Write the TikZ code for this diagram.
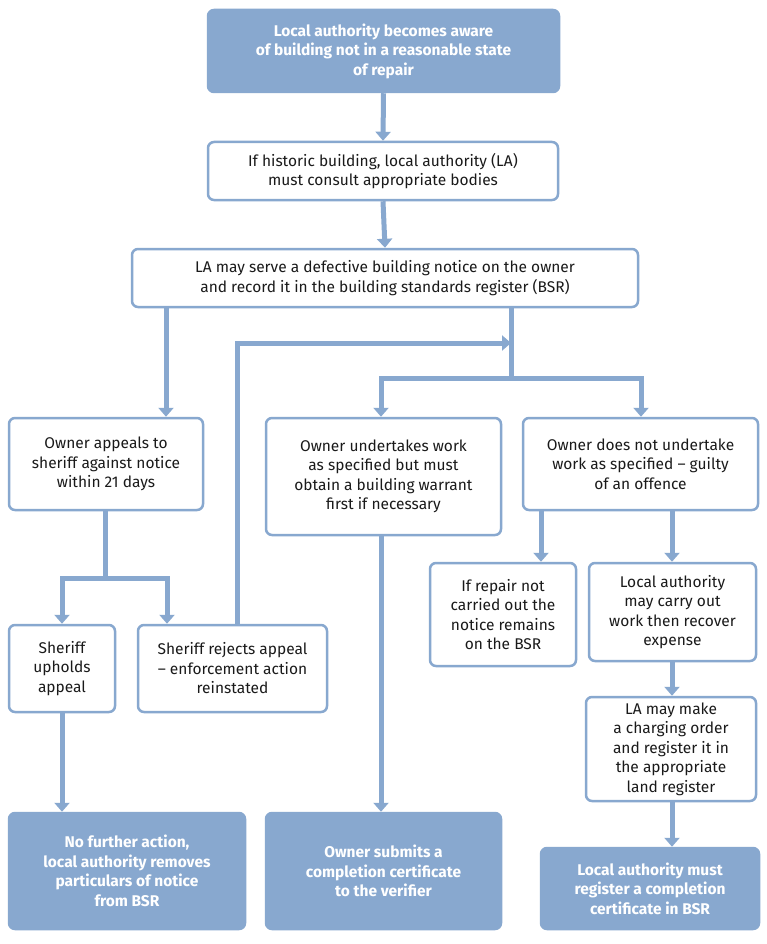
\documentclass[tikz,border=0pt]{standalone}
\usepackage{fontspec}
\setmainfont{Fira Sans}
\usetikzlibrary{arrows.meta}
\definecolor{bl}{HTML}{88A8CF}
\definecolor{tx}{HTML}{1A1A1A}
\tikzset{
 box/.style={draw=bl,line width=2.5pt,rounded corners=6pt,fill=white,align=center,font=\fontsize{15.5}{19.5}\selectfont,text=tx,inner sep=0pt},
 fbox/.style={box,fill=bl,text=white,font=\bfseries\fontsize{15.5}{19.5}\selectfont},
 ar/.style={draw=bl,line width=5pt,-{Triangle[length=9pt,width=15pt]}},
 ln/.style={draw=bl,line width=5pt}
}
\newcommand{\bx}[6]{\node[#1,minimum width=#4pt-#2pt,minimum height=#5pt-#3pt] (#6) at ({(#2+#4)/2*1pt},{-(#3+#5)/2*1pt})}
\begin{document}
\begin{tikzpicture}
\useasboundingbox (0,0) rectangle (767pt,-944pt);
\fill[white] (0,0) rectangle (767pt,-944pt);
\bx{fbox}{208}{10}{559}{92}{a}{Local authority becomes aware\\of building not in a reasonable state\\of repair};
\bx{box}{208}{142}{558}{200}{b}{If historic building, local authority (LA)\\must consult appropriate bodies};
\bx{box}{132}{249}{638}{307}{c}{LA may serve a defective building notice on the owner\\and record it in the building standards register (BSR)};
\bx{box}{9}{418}{203}{510}{d}{Owner appeals to\\sheriff against notice\\within 21 days};
\bx{box}{266}{418}{501}{535}{e}{Owner undertakes work\\as specified but must\\obtain a building warrant\\first if necessary};
\bx{box}{523}{418}{758}{510}{f}{Owner does not undertake\\work as specified -- guilty\\of an offence};
\bx{box}{9}{625}{115}{712}{g}{Sheriff\\upholds\\appeal};
\bx{box}{138}{625}{327}{712}{h}{Sheriff rejects appeal\\-- enforcement action\\reinstated};
\bx{box}{430}{563}{576}{666}{i}{If repair not\\carried out the\\notice remains\\on the BSR};
\bx{box}{589}{563}{756}{661}{j}{Local authority\\may carry out\\work then recover\\expense};
\bx{box}{586}{697}{756}{801}{k}{LA may make\\a charging order\\and register it in\\the appropriate\\land register};
\bx{fbox}{9}{813}{245}{929}{l}{No further action,\\local authority removes\\particulars of notice\\from BSR};
\bx{fbox}{266}{813}{501}{929}{m}{Owner submits a\\completion certificate\\to the verifier};
\bx{fbox}{541}{848}{759}{929}{n}{Local authority must\\register a completion\\certificate in BSR};
\coordinate (s1) at (511pt,-378pt);
\coordinate (s2) at (105pt,-578pt);
\coordinate (s3) at (511pt,-343pt);
\draw[ar] (a.south) -- (b.north);
\draw[ar] (b.south) -- (c.north);
\draw[ar] (c.south -| d) ++(60pt,0) coordinate (t) -- (t |- d.north);
\draw[ln] (c.south -| s1) -- (s1);
\draw[ar] (s1) -| (e.north -| 381pt,0);
\draw[ar] (s1) -| (f.north -| 641pt,0);
\draw[ar] (h.north -| 237pt,0) |- (s3);
\draw[ln] (d.south -| s2) -- (s2);
\draw[ar] (s2) -| (g.north -| 62pt,0);
\draw[ar] (s2) -| (h.north -| 167pt,0);
\draw[ar] (g.south -| 62pt,0) -- (l.north -| 62pt,0);
\draw[ar] (e.south -| 381pt,0) -- (m.north -| 381pt,0);
\draw[ar] (f.south -| 541pt,0) -- (i.north -| 541pt,0);
\draw[ar] (f.south -| 672pt,0) -- (j.north -| 672pt,0);
\draw[ar] (j.south -| 672pt,0) -- (k.north -| 672pt,0);
\draw[ar] (k.south -| 672pt,0) -- (n.north -| 672pt,0);
\end{tikzpicture}
\end{document}
